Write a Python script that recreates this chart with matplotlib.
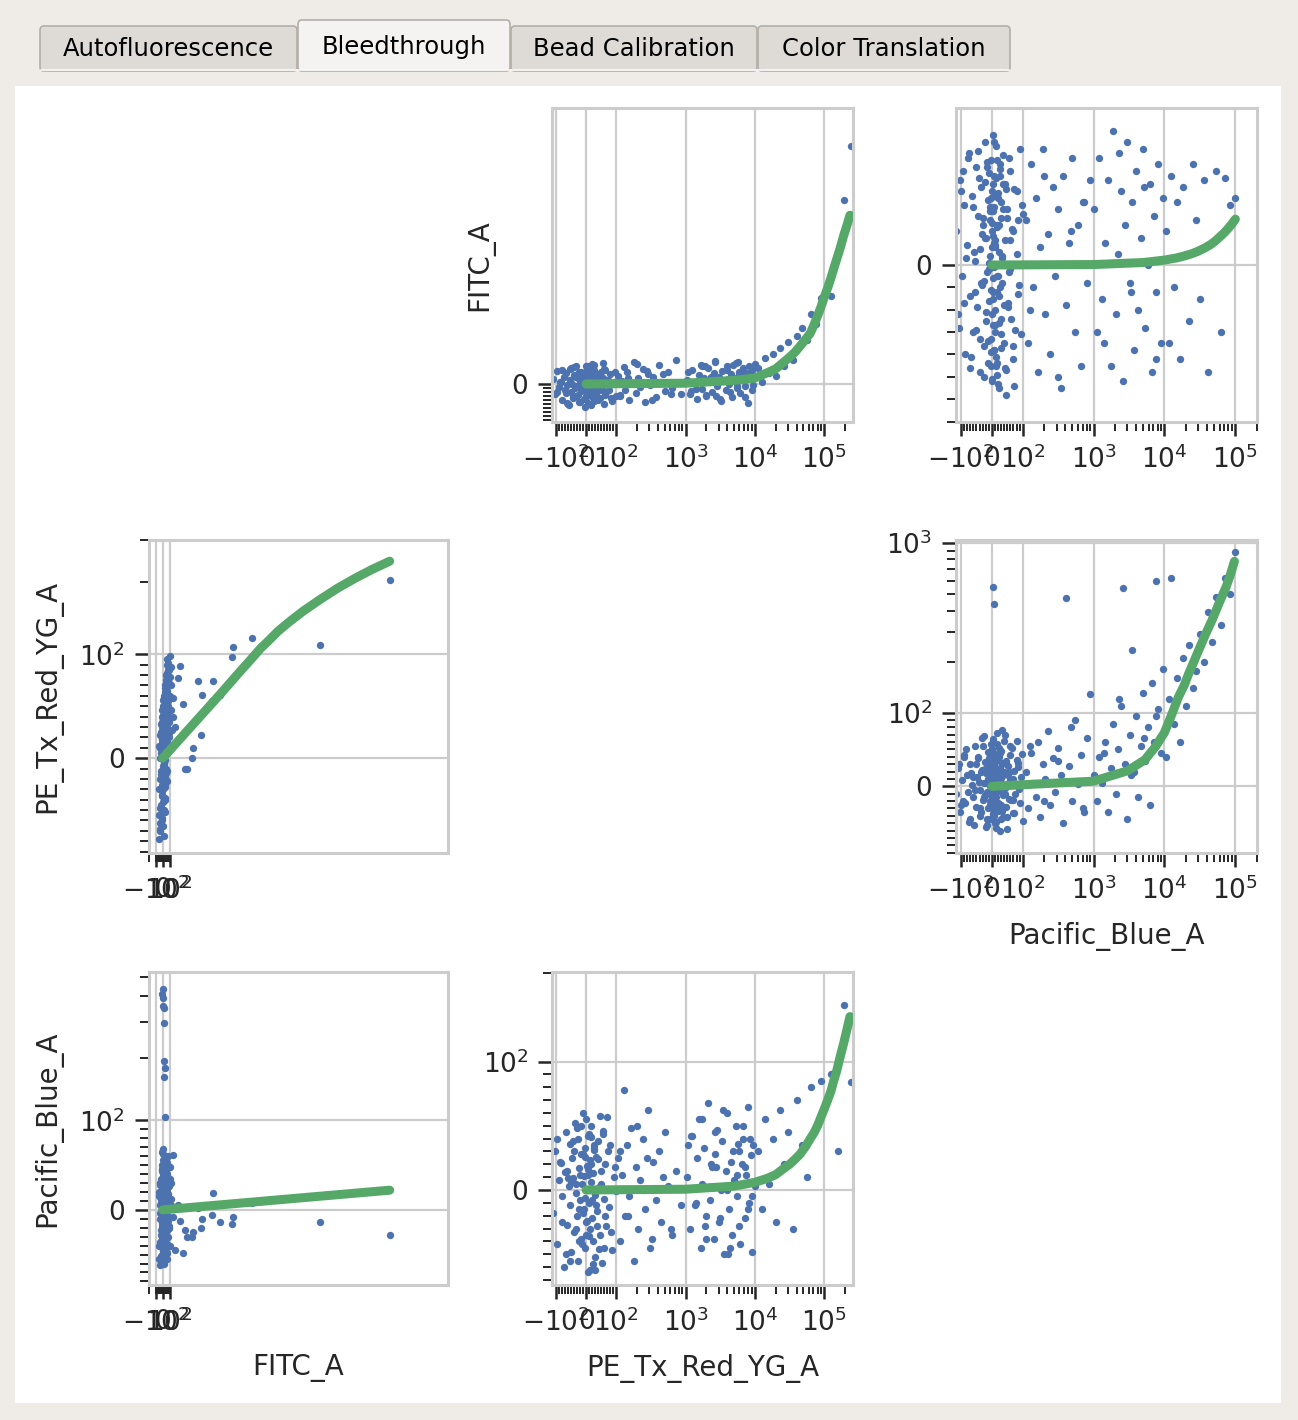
import matplotlib
matplotlib.use("Agg")
import matplotlib.pyplot as plt
from matplotlib.patches import Rectangle, FancyBboxPatch
from matplotlib.ticker import FixedLocator, FixedFormatter

channels = ["FITC_A", "PE_Tx_Red_YG_A", "Pacific_Blue_A"]
tab_names = ["Autofluorescence", "Bleedthrough", "Bead Calibration", "Color Translation"]

# --- FITC single-colour control (events: FITC, PE, Pacific Blue) ---
fitc_ctrl_fitc = [
    -60, -52, -45, -40, -35, -30, -26, -22, -18, -15, -12, -9, -6, -4, -2, 0, 2, 4, 6, 8,
    10, 12, 14, 16, 18, 20, 22, 24, 26, 28, 30, 32, 34, 36, 38, 40, 43, 46, 49, 52,
    55, 58, 62, 66, 70, 75, 80, 86, 92, 100, 110, 120,
    -48, -33, -20, -10, -3, 3, 9, 15, 21, 27, 33, 39, 45, 51, 57, 63, 72, 84,
    -55, -38, -24, -13, -5, 1, 7, 13, 19, 25, 31, 37, 44, 50, 60, 68, 78, 90, 105, 130,
    -42, -36, -28, -17, -11, -7, -1, 5, 11, 17, 23, 29, 35, 41, 47, 53, 59, 65, 74, 82,
    -32, -16, -8, -1, 2, 6, 10, 14, 20, 26, 32, 38, 48, 56, 64, 88, 96, 115, 125, 140,
    3243, 2243, 1271, 1000, 986, 814, 714, 700, 557, 540, 500, 430, 414, 343, 286, 243,
    214, 143, 314, 170]
fitc_ctrl_pe = [
    -30, -55, 10, -70, -20, 25, -45, 5, -12, 40, -35, 15, -60, 30, -8, 2, -25, 48, -15, 20,
    35, -40, 60, 8, -5, 28, -50, 42, 12, -18, 70, -28, 22, 52, -2, 38, -10, 80, 18, 45,
    -22, 65, 30, 95, 10, 55, 85, 35, 72, 98, 60, 88,
    -78, 0, -48, 18, -32, 50, -65, 26, -6, 62, -38, 14, 75, -14, 44, 6, 92, 24,
    12, -62, 33, -26, 46, -42, 20, -75, 58, -3, 32, -52, 66, 4, 90, 16, 50, 40, 78, 27,
    -48, 22, -15, 35, -58, 10, 42, -30, 56, -8, 30, -40, 68, 15, -22, 50, -12, 82, 38, 60,
    -68, 18, -36, 6, -52, 28, -20, 45, -4, 64, -26, 12, 72, 34, 56, 20, 85, 46, 70, 58,
    205, 109, 117, 107, 97, 61, 74, 55, 61, 22, 74, 10, 0, -10, 52, 89,
    77, 40, -10, 30]
fitc_ctrl_pb = [
    15, -40, 28, -10, 5, -52, 35, -22, 12, 50, -30, 8, -15, 22, -45, 437, 40, 395, -5, 358,
    18, 350, -35, 297, 30, 194, -58, 163, 2, 104, -20, 45, -12, 25, -38, 10, 55, -25, 33, -8,
    20, -48, 38, 0, -30, 60, 14, -18, 27, -40, 48, 6,
    -55, 30, -28, 65, 410, -12, 42, -35, 16, 180, -50, 24, -6, 36, -42, 52, 4, -20,
    20, -62, 8, 45, -26, 68, -10, 32, -44, 12, 58, -33, 26, -16, 40, -55, 18, -8, 35, 3,
    30, -36, 12, -50, 44, -18, 4, 56, -28, 22, -60, 38, -6, 50, -42, 16, -22, 32, -12, 26,
    -4, 46, -34, 62, 10, -46, 24, -16, 36, -54, 8, -26, 42, -38, 18, 48, -20, 30, 12, -8,
    -28, -14, 8, -8, -16, -14, 19, -6, -10, -20, 2, -25, -30, -30, -48, -12,
    5, 61, -22, -45]

# --- PE-Texas Red single-colour control ---
pe_ctrl_pe = [
    -110, -102, -95, -90, -84, -79, -74, -70, -66, -62, -58, -55, -52, -49, -46, -43, -40,
    -37, -34, -31, -28, -26, -23, -21, -18, -16, -13, -11, -8, -6, -4, -2, 0, 2, 4, 6, 8,
    10, 12, 14, 16, 18, 20, 22, 24, 26, 28, 31, 34, 37, 40, 43, 46, 49, 52, 55, 58, 62,
    66, 70, 75, 80, 86, 92, 98,
    105, 112, 120, 128, 135, 145, 155, 165, 178, 190, 205, 220, 240, 260, 285, 310, 340,
    370, 410, 450, 500, 560, 630, 720, 850,
    1050, 1150, 1250, 1350, 1450, 1550, 1650, 1750, 1850, 1950, 2100, 2250, 2400, 2550,
    2700, 2850, 3000, 3200, 3400, 3600, 3800, 4000, 4250, 4500, 4750, 5000, 5300, 5600,
    5900, 6200, 6500, 6800, 7100, 7500, 7900, 8300, 8700, 9100, 9500, 9900,
    11000, 12500, 14000, 16000, 18000, 20000, 23000, 26000, 30000, 35000, 41000, 48000,
    56000, 65000, 76000, 90000,
    125000, 160000, 190000, 245000,
    -88, -68, -50, -44, -35, -29, -24, -19, -14, -10, -5, -1, 3, 7, 11, 15, 19, 23, 27, 33,
    38, 44, 50, 57, 64, 72, 83, 95, -60, 30,
    1100, 1400, 1700, 2000, 2300, 2650, 3100, 3500, 3900, 4400, 4900, 5450, 6000, 6650,
    7300, 8000, 8500, 9000, 620, 280,
    -97, -81, -64, -53, -41, -32, -25, -17, -9, -3, 1, 5, 9, 13, 17, 21, 25, 35, 47, 60,
    115, 150, 200, 330, 480, 1200, 1900, 2750, 4100, 5700]
pe_ctrl_fitc = [
    12, -25, 33, -8, 4, -41, 18, -15, 27, -3, -52, 9, 38, -20, 1, -33, 22, -11, 45, -6,
    -28, 15, -44, 6, 30, -17, -2, 24, -37, 11, -58, 19, -9, 36, -23, 3, -47, 14, 41, -13,
    7, -31, 26, -5, -19, 48, -39, 10, -26, 21, -12, 2, -35, 29, -7, 16, -49, 34, -21, 8,
    -14, 25, -42, 5, -30,
    20, -30, 8, 42, -15, 31, -40, 3, 55, -22, 14, -8, 37, -45, 26, -2, 18, -33, 47, 5,
    -18, 29, -11, 60, -26,
    10, -25, 35, 2, -38, 22, 48, -12, 15, -30, 40, 5, -20, 28, 58, -6, 18, -42, 33, 9,
    -15, 45, 0, 25, -33, 14, 52, -9, 30, -22, 20, 38, -5, 27, -48, 44, 12, 35, -2, 50,
    40, 5, 65, 28, 75, 20, 90, 45, 105, 60, 120, 140, 110, 175, 150, 215,
    220, 330, 460, 595,
    5, -22, 40, -36, 17, -4, 31, -45, 23, -13, 8, -29, 44, -9, 27, -53, 13, -19, 35, -1,
    -40, 20, -16, 52, -27, 9, -34, 30, -50, 15,
    30, -12, 45, -28, 18, 55, -38, 8, 35, -20, 48, -5, 22, 40, -32, 12, 28, -15, -25, 33,
    -20, 35, -48, 10, 42, -30, 18, -5, 28, -38, 46, -15, 0, 32, -25, 50, -42, 22, -10, 38,
    -28, 15, 50, -40, 25, -18, 44, -30, 12, 56]
pe_ctrl_pb = [
    -18, 30, -42, 8, 21, -5, -60, 14, 45, -27, 3, 36, -12, -48, 25, 9, -33, 52, -2, -20,
    40, -55, 17, -8, 28, -38, 5, 60, -15, 11, -45, 33, -25, 1, 19, -64, 42, -10, 23, -30,
    6, 50, -22, 13, -40, 31, -4, -52, 26, -16, 38, 2, -35, 15, -57, 44, -7, 20, -28, 57,
    -13, 35, -47, 10, -1,
    25, -40, 12, 78, -20, 35, -5, 48, -55, 18, -30, 8, 40, -15, 62, -45, 22, -8, 30, -25,
    45, 3, -35, 15, -12,
    10, -30, 42, -12, 25, 55, -45, 5, 33, -20, 68, -8, 18, -38, 28, 47, -25, 0, 38, -50,
    15, 60, -15, 22, -35, 8, 50, -5, 30, -42, 20, 40, -22, 12, 65, -10, 27, -48, 35, 3,
    30, -15, 55, 5, 40, -25, 62, 20, 45, -30, 70, 35, 10, 80, 50, 85,
    90, 30, 155, 84,
    22, -50, 7, 38, -30, 48, -15, 12, -42, 28, -6, 55, -24, 16, -36, 41, 0, -58, 33, -12,
    24, -46, 5, 46, -20, 30, -33, 18, 9, -62,
    35, -10, 55, -38, 20, 45, -22, 62, 0, -45, 30, 12, -28, 50, 18, -15, 40, -5, -30, 25,
    40, -25, 15, -55, 30, 5, -40, 50, -18, 26, -35, 12, 44, -62, 20, -8, 35, -28, 58, -45,
    30, -20, 50, -38, 10, 42, -28, 18, -50, 36]

# --- Pacific Blue single-colour control ---
pb_ctrl_pb = [
    -118, -112, -105, -98, -92, -86, -80, -75, -70, -65, -60, -56, -52, -48, -44, -40,
    -37, -34, -31, -28, -25, -22, -20, -18, -16, -14, -12, -10, -8, -6, -5, -4,
    -3, -2, -1, 0, 1, 2, 3, 4, 5, 6, 7, 8, 9, 10, 12, 14,
    16, 18, 20, 22, 24, 26, 28, 30, 33, 36, 39, 42, 45, 48, 52, 56,
    60, 64, 68, 72, 76, 80, 85, 90, 95, 100, 15,
    110, 120, 130, 140, 152, 165, 178, 192, 208, 225, 245, 265, 290, 315, 345, 375, 410,
    450, 495, 540, 600, 660, 730, 810, 900,
    1000, 1100, 1200, 1320, 1450, 1600, 1750, 1900, 2050, 2200, 2400, 2600, 2800, 3000,
    3250, 3500, 3750, 4000, 4300, 4600, 5000, 5400, 5800, 6200, 6700, 7200, 7700, 8200,
    8800, 9400,
    10500, 11500, 12500, 13500, 15000, 16500, 18000, 20000, 22000, 25000, 28000, 32000,
    36000, 41000, 47000, 54000, 62000, 72000, 84000, 98000,
    -108, -95, -83, -72, -62, -54, -46, -38, -33, -27, -23, -19, -15, -11, -7, -4, -2, 0,
    1, 3, 5, 7, 9, 11, 13, 15, 17, 19, 21, 23, 25, 27, 29, 31, 34, 37, 40, 43, 47, 50,
    54, 58, 62, 67, 73, 80, 88, 97, 12, 6,
    125, 200, 320, 480, 700, 1400, 2300, 3400, 5200, 7500,
    -100, -90, -78, -67, -58, -50, -42, -36, -30, -26, -21, -17, -13, -9, -6, -3, -1, 1,
    2, 4, 6, 8, 10, 11, 13, 16, 18, 20, 22, 24, 27, 30, 33, 37, 41, 46, 52, 60, 70, 84]
pb_ctrl_fitc = [
    15, -22, 38, -5, 27, -40, 9, 50, -14, 31, -30, 2, 44, -19, 22, -48, 7, 35, -9, 18,
    -36, 55, -25, 12, -3, 29, -44, 41, -16, 4, 24, -33, 47, -11, 19, -52, 33, -6, 13, -27,
    58, -38, 26, -1, 8, -20, 39, -45, 17, -12, 30, -55, 6, 43, -24, 21, -8, 36, -35, 11,
    -58, 25, -17, 48, -2, 16, -42, 34, -29, 5, -13, 52, -31, 23, -49,
    20, -35, 45, -10, 30, -48, 8, 52, -22, 14, -40, 35, -5, 25, -55, 40, -18, 10, 48, -30,
    18, -45, 28, -8, 38,
    25, -30, 48, -15, 10, 38, -45, 60, -22, 5, 33, -52, 18, 55, -8, 28, -38, 42, -20, 12,
    52, -28, 0, 36, -48, 22, -12, 45, -35, 30,
    15, -35, 40, -10, 28, -42, 35, 5, -25, 45, 20, -15, 38, -48, 10, 42, -30, 39, 27, 30,
    -28, 42, 3, -46, 26, -12, 51, -33, 14, -7, 37, -21, 46, -2, 20, -39, 30, 8, -51, 24,
    -15, 40, -30, 11, 53, -44, 18, -5, 32, -26, 45, -10, 28, -37, 4, 49, -18, 36, -47, 21,
    -3, 42, -24, 15, -54, 33, -9, 27, -41, 10,
    -20, 40, -50, 15, 28, -35, 50, -12, 35, -42,
    33, -17, 48, -41, 6, -29, 39, -8, 21, -50, 12, 44, -34, 1, 26, -45, 15, -22, 36, -12,
    55, -38, 9, -27, 31, -5, 47, -53, 18, -14, 40, -31, 3, 25, -46, 34, -19, 11, -36, 20]
pb_ctrl_pe = [
    -10, 25, -35, 8, 42, -22, 15, -48, 30, 2, -15, 55, -28, 12, 38, -5, -40, 20, 65, -18,
    5, 33, -55, 18, -8, 47, -30, 10, 26, -45, 0, 36, -12, 22, -25, 50, 7, -38, 14, 550,
    -20, 29, 440, -3, 40, -50, 17, -14, 58, 4, -33, 24, -7, 45, -26, 11, 77, -42, 19, -2,
    35, -58, 28, -17, 9, 52, -36, 21, -11, 62, 31, -23, 13, -47, 6,
    20, -30, 45, 5, -15, 60, -42, 30, 10, 75, -25, 38, -8, 52, 15, -50, 475, 28, -20, 90,
    3, 42, -35, 65, 128,
    15, -20, 40, 5, 60, -35, 25, 85, -10, 50, 110, 540, 30, -45, 70, 234, 20, 95, -15, 55,
    130, 35, 80, -25, 150, 60, 600, 105, 45, 180,
    40, 120, 620, 85, 160, 60, 210, 110, 250, 140, 175, 290, 200, 390, 260, 480, 330, 620,
    500, 880,
    30, -20, 50, -45, 12, -5, 40, -30, 22, 68, -12, 5, -52, 35, -26, 18, 58, -8, 27, -38,
    45, 3, -16, 33, -48, 14, 72, -22, 8, 40, -60, 25, -2, 48, -33, 16, 62, -10, 30, -42,
    20, 55, -18, 10, -36, 36, -4, 44, -28, 24,
    55, -20, 35, 80, -30, 45, 120, 15, 65, 95,
    -25, 40, -8, 18, -52, 30, 6, -35, 55, -14, 24, -45, 10, 38, -20, 2, 48, -30, 15, 64,
    -40, 28, -10, 44, -56, 20, -4, 36, -24, 52, 8, -44, 32, -12, 70, -28, 16, 42, -18, 26]

# --- fitted bleedthrough lines ---
fit_pe_x = [0, 1000, 5000, 10000, 15000, 20000, 25000, 31600, 38000, 45000, 54000, 63000,
            72000, 80000, 90000, 100000, 112000, 125000, 137000, 150000, 170000, 190000,
            212000, 235000]
fit_pe_fitc_y = [0, 2, 9, 15, 28, 38, 52, 67, 80, 95, 112, 127, 150, 170, 193, 217, 240,
                 265, 288, 310, 340, 370, 396, 422]
fit_pe_pb_y = [0, 0.6, 3, 6, 9, 12, 16, 20, 24, 28, 34, 40, 45, 50, 57, 63, 70, 77, 85,
               92, 104, 115, 128, 142]
fit_pb_fitc_x = [0, 1000, 5000, 10000, 15000, 20000, 25000, 30000, 37000, 45000, 52000,
                 60000, 70000, 80000, 90000, 100000]
fit_pb_fitc_y = [0, 0.2, 1.1, 2.2, 3.2, 4.2, 5.2, 6.2, 7.6, 9.2, 10.7, 12.5, 14.5, 16.5,
                 18.5, 20.5]
fit_pb_pe_x = [0, 1000, 3000, 5300, 7500, 10000, 12500, 15800, 19000, 22000, 26000, 30600,
               38000, 47000, 60000, 74000, 85000, 97000]
fit_pb_pe_y = [0, 7, 21, 36, 54, 73, 96, 124, 145, 170, 200, 235, 290, 352, 450, 551, 650,
               780]
fit_fitc_pe_x = [0, 400, 814, 1100, 1286, 1400, 1500, 1650, 1800, 2000, 2243, 2500, 2750,
                 3000, 3243]
fit_fitc_pe_y = [0, 30, 61, 83, 97, 106, 113, 125, 136, 151, 169, 189, 208, 227, 245]
fit_fitc_pb_x = [0, 1000, 2000, 3243]
fit_fitc_pb_y = [0, 6.8, 13.6, 22]

# (row = y channel, col = x channel)
panels = {
    (0, 1): (pe_ctrl_pe, pe_ctrl_fitc, fit_pe_x, fit_pe_fitc_y),
    (0, 2): (pb_ctrl_pb, pb_ctrl_fitc, fit_pb_fitc_x, fit_pb_fitc_y),
    (1, 0): (fitc_ctrl_fitc, fitc_ctrl_pe, fit_fitc_pe_x, fit_fitc_pe_y),
    (1, 2): (pb_ctrl_pb, pb_ctrl_pe, fit_pb_pe_x, fit_pb_pe_y),
    (2, 0): (fitc_ctrl_fitc, fitc_ctrl_pb, fit_fitc_pb_x, fit_fitc_pb_y),
    (2, 1): (pe_ctrl_pe, pe_ctrl_pb, fit_pe_x, fit_pe_pb_y),
}

W, H = 1298, 1420
TXT = "#262626"
plt.rcParams["font.family"] = ["DejaVu Sans"]

lin_minor = [v for v in range(-90, 100, 10) if v != 0]
log_minor = [m * 10 ** k for k in range(2, 6) for m in range(2, 10)]
neg_minor = list(range(-90, 0, 10))


def tick_label(v):
    if v == 0:
        return r"$\mathdefault{0}$"
    k = len(str(abs(int(v)))) - 1
    sign = "-" if v < 0 else ""
    return r"$\mathdefault{%s10^{%d}}$" % (sign, k)


sym_major = [-100, 0, 100, 1000, 10000, 100000]
# x axis per column: scale, limits, majors, minors
xcfg = {
    0: ("linear", (-203, 4069), [-100, 0, 100], [-200] + lin_minor),
    1: ("symlog", (-114, 2.6e5), sym_major, lin_minor + log_minor),
    2: ("symlog", (-118, 2.02e5), sym_major, lin_minor + log_minor),
}
ycfg = {
    (0, 1): ("linear", (-95, 690), [0], neg_minor),
    (0, 2): ("linear", (-70.2, 70.2), [0], neg_minor),
    (1, 0): ("symlog", (-91.3, 300.5), [0, 100], lin_minor + log_minor),
    (1, 2): ("symlog", (-90.5, 1042), [0, 100, 1000], lin_minor + log_minor),
    (2, 0): ("symlog", (-84, 526), [0, 100], lin_minor + log_minor),
    (2, 1): ("symlog", (-74, 201), [0, 100], lin_minor + log_minor),
}

fig = plt.figure(figsize=(W / 100, H / 100), dpi=100)
fig.patch.set_facecolor("#EFEBE7")

# window chrome: tab bar and white page
bg = fig.add_axes([0, 0, 1, 1])
bg.set_xlim(0, W)
bg.set_ylim(H, 0)
bg.axis("off")
bg.add_patch(Rectangle((15, 86), 1266, 1317, fc="white", ec="none"))
tab_x = [(40, 297), (298, 510), (511, 757), (758, 1010)]
for i, (name, (x0, x1)) in enumerate(zip(tab_names, tab_x)):
    sel = i == 1
    y0 = 20 if sel else 26
    bg.add_patch(FancyBboxPatch((x0, y0), x1 - x0, 71 - y0,
                                boxstyle="round,pad=0,rounding_size=4",
                                fc="#F5F3F1" if sel else "#DEDBD7", ec="#B3AEA8", lw=1.2))
    bg.text((x0 + x1) / 2, 47 if sel else 49, name, ha="center", va="center",
            fontsize=17.5, color="black")
bg.plot([41, 1009], [70, 70], color="#FAFAFA", lw=1.2)

lefts = [148.5, 552, 956]
rights = [447.5, 853, 1257]
tops = [108, 540, 972]
bottoms = [422, 853, 1285]

for (r, c), (xs, ys, fx, fy) in panels.items():
    ax = fig.add_axes([lefts[c] / W, 1 - bottoms[r] / H,
                       (rights[c] - lefts[c]) / W, (bottoms[r] - tops[r]) / H])
    ax.set_facecolor("white")
    xscale, xlim, xmaj, xmin = xcfg[c]
    yscale, ylim, ymaj, ymin = ycfg[(r, c)]
    if xscale == "symlog":
        ax.set_xscale("symlog", linthresh=100, linscale=0.391)
    if yscale == "symlog":
        ax.set_yscale("symlog", linthresh=100, linscale=0.391)

    ax.scatter(xs, ys, s=28, color="#4C72B0", linewidths=0, zorder=2)
    ax.plot(fx, fy, color="#55A868", lw=6.5, solid_capstyle="round",
            solid_joinstyle="round", zorder=3)

    ax.set_xlim(*xlim)
    ax.set_ylim(*ylim)
    ax.xaxis.set_major_locator(FixedLocator(xmaj))
    ax.xaxis.set_major_formatter(FixedFormatter([tick_label(v) for v in xmaj]))
    ax.xaxis.set_minor_locator(FixedLocator(xmin))
    ax.yaxis.set_major_locator(FixedLocator(ymaj))
    ax.yaxis.set_major_formatter(FixedFormatter([tick_label(v) for v in ymaj]))
    ax.yaxis.set_minor_locator(FixedLocator(ymin))

    ax.set_axisbelow(True)
    ax.grid(True, which="major", color="#cccccc", lw=1.6)
    for sp in ax.spines.values():
        sp.set_color("#cccccc")
        sp.set_linewidth(2.2)
    ax.tick_params(which="major", length=10, width=1.8, color=TXT, pad=7,
                   labelsize=19, labelcolor=TXT)
    ax.tick_params(which="minor", length=6.5, width=1.4, color=TXT)

    if r == 2 or (r, c) == (1, 2):
        ax.set_xlabel(channels[c], fontsize=20, color=TXT, labelpad=12)
    if (r, c) in [(0, 1), (1, 0), (2, 0)]:
        ax.set_ylabel(channels[r], fontsize=20, color=TXT, labelpad=12)

fig.savefig("out.png", dpi=100, facecolor=fig.get_facecolor())
